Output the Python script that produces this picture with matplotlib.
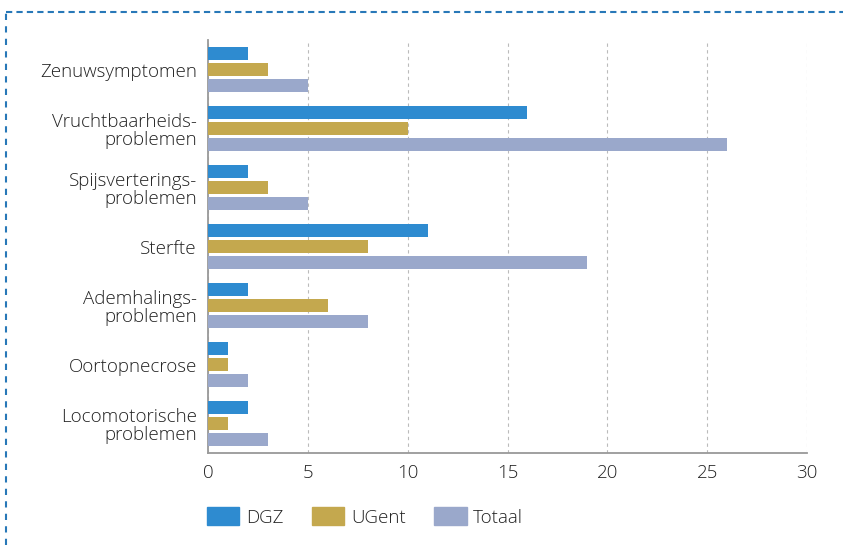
import matplotlib.pyplot as plt
import numpy as np
from matplotlib.lines import Line2D
from matplotlib.patches import Patch

plt.rcParams['font.family'] = ['Open Sans', 'DejaVu Sans']

categories = ['Zenuwsymptomen', 'Vruchtbaarheids-\nproblemen', 'Spijsverterings-\nproblemen',
              'Sterfte', 'Ademhalings-\nproblemen', 'Oortopnecrose', 'Locomotorische\nproblemen']
dgz = [2, 16, 2, 11, 2, 1, 2]
ugent = [3, 10, 3, 8, 6, 1, 1]
totaal = [5, 26, 5, 19, 8, 2, 3]
series_names = ['DGZ', 'UGent', 'Totaal']
colors = ['#2E8BD0', '#C4A84E', '#9AA8CB']

fig = plt.figure(figsize=(8.43, 5.45), dpi=100)
ax = fig.add_axes([208 / 843, 1 - 453 / 545, 599 / 843, 413 / 545])

y = np.arange(len(categories))
h = 0.22
off = 0.265
for vals, d, c in zip([dgz, ugent, totaal], [-off, 0, off], colors):
    ax.barh(y + d, vals, height=h, color=c, zorder=3)

ax.set_ylim(len(categories) - 0.5, -0.5)
ax.set_xlim(0, 30)
ax.set_xticks(range(0, 31, 5))
ax.set_yticks(y)
ax.set_yticklabels(categories, fontsize=13.5, color='#222222', linespacing=1.05)
ax.tick_params(axis='both', length=0, colors='#222222')
ax.tick_params(axis='x', labelsize=13.5, pad=8)
ax.tick_params(axis='y', pad=8)
for lab in ax.get_yticklabels():
    lab.set_horizontalalignment('right')
    lab.set_fontweight('light')
for lab in ax.get_xticklabels():
    lab.set_fontweight('light')

ax.grid(axis='x', color='#bbbbbb', linestyle=(0, (3, 3)), linewidth=0.8, zorder=0)
for s in ['top', 'right']:
    ax.spines[s].set_visible(False)
for s in ['left', 'bottom']:
    ax.spines[s].set_color('#999999')
    ax.spines[s].set_linewidth(1.3)

# dashed frame along the top and left edge
fig.add_artist(Line2D([6 / 843, 1.0], [1 - 12 / 545] * 2, color='#2878B8',
                      linestyle=(0, (3, 2)), linewidth=1.5, transform=fig.transFigure))
fig.add_artist(Line2D([6 / 843] * 2, [0, 1 - 12 / 545], color='#2878B8',
                      linestyle=(0, (3, 3)), linewidth=1.5, transform=fig.transFigure))

handles = [Patch(color=c) for c in colors]
leg = fig.legend(handles, series_names, loc='center left', bbox_to_anchor=(201 / 843, 1 - 517 / 545),
                 ncol=3, frameon=False, fontsize=13.5, handlelength=1.75, handleheight=1.1,
                 columnspacing=1.5, handletextpad=0.35, borderaxespad=0, borderpad=0.3)
for t in leg.get_texts():
    t.set_color('#222222')
    t.set_fontweight('light')

fig.savefig('out.png', dpi=100)
